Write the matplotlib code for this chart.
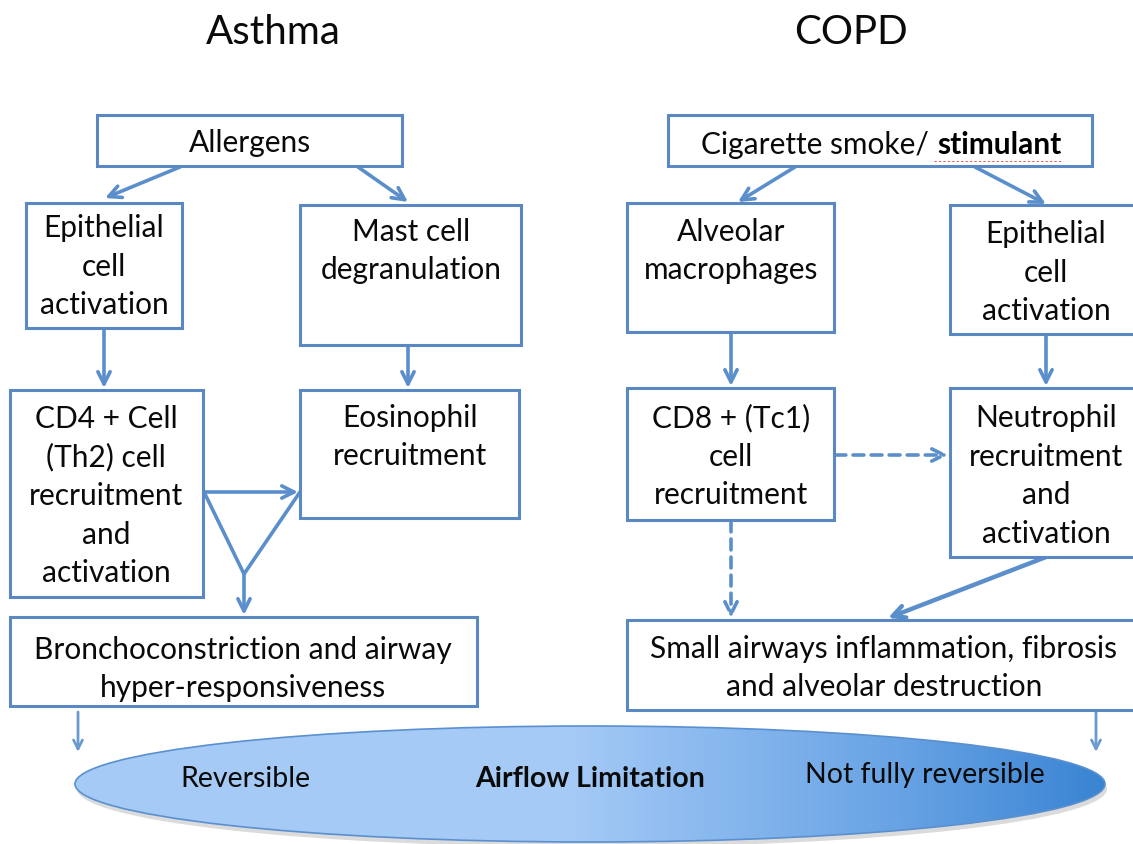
import matplotlib
matplotlib.use("Agg")
import matplotlib.pyplot as plt
import numpy as np
from matplotlib.patches import Rectangle, Ellipse
from matplotlib.colors import LinearSegmentedColormap

# ---------------- data (text content) ----------------
titles = ["Asthma", "COPD"]
asthma_labels = [
    ["Allergens"],
    ["Epithelial", "cell", "activation"],
    ["Mast cell", "degranulation"],
    ["CD4 + Cell", "(Th2) cell", "recruitment", "and", "activation"],
    ["Eosinophil", "recruitment"],
    ["Bronchoconstriction and airway", "hyper-responsiveness"],
]
copd_top_plain = "Cigarette smoke/ "
copd_top_bold = "stimulant"
copd_labels = [
    None,
    ["Alveolar", "macrophages"],
    ["Epithelial", "cell", "activation"],
    ["CD8 + (Tc1)", "cell", "recruitment"],
    ["Neutrophil", "recruitment", "and", "activation"],
    ["Small airways inflammation, fibrosis", "and alveolar destruction"],
]
ellipse_labels = ["Reversible", "Airflow Limitation", "Not fully reversible"]

# ---------------- layout (pixel coords) ----------------
W, H = 1133, 844
EDGE = "#5a88c2"
ARROW = "#5b8fcb"
FONT = "Lato"
FS = 21.5
LINE_H = 38.5

# box: (x0, y0, x1, y1), text center (cx, cy)
asthma_boxes = [
    ((97, 115, 402, 166), (250, 143)),
    ((26, 203, 182, 328), (104, 267)),
    ((300, 205, 521, 345), (411, 251)),
    ((10, 390, 203, 597), (106, 496)),
    ((300, 390, 519, 518), (410, 437)),
    ((10, 617, 477, 706), (243, 669)),
]
copd_boxes = [
    ((668, 115, 1092, 166), (880, 145)),
    ((627, 203, 834, 332), (731, 251)),
    ((950, 205, 1145, 334), (1046, 273)),
    ((627, 388, 834, 520), (731, 457)),
    ((950, 388, 1145, 557), (1046, 476)),
    ((627, 620, 1145, 710), (884, 668)),
]

fig = plt.figure(figsize=(W / 100, H / 100), dpi=100)
ax = fig.add_axes([0, 0, 1, 1])
ax.set_xlim(0, W)
ax.set_ylim(H, 0)
ax.axis("off")


def draw_box(rect, center, lines):
    x0, y0, x1, y1 = rect
    ax.add_patch(Rectangle((x0, y0), x1 - x0, y1 - y0, fill=True, facecolor="white",
                           edgecolor=EDGE, lw=2.2, zorder=3))
    if lines is None:
        return
    cx, cy = center
    n = len(lines)
    for i, ln in enumerate(lines):
        y = cy + (i - (n - 1) / 2) * LINE_H
        ax.text(cx, y, ln, ha="center", va="center", fontsize=FS, family=FONT,
                color="#0a0a0a", zorder=4)


def arrow(p0, p1, ls="-", lw=2.6, ms=22, color=ARROW):
    ax.annotate("", xy=p1, xytext=p0,
                arrowprops=dict(arrowstyle="->", color=color, lw=lw, linestyle=ls,
                                mutation_scale=ms, shrinkA=0, shrinkB=0),
                zorder=2)


def line(pts, lw=2.6, color=ARROW):
    xs, ys = zip(*pts)
    ax.plot(xs, ys, color=color, lw=lw, solid_capstyle="round", zorder=2)


# titles
ax.text(273, 32, titles[0], ha="center", va="center", fontsize=29, family=FONT, color="#0a0a0a")
ax.text(851, 32, titles[1], ha="center", va="center", fontsize=29, family=FONT, color="#0a0a0a")

for (rect, c), lab in zip(asthma_boxes, asthma_labels):
    draw_box(rect, c, lab)
for (rect, c), lab in zip(copd_boxes, copd_labels):
    draw_box(rect, c, lab)

# COPD top box text with bold part
ax.text(929, 145, copd_top_plain.rstrip(), ha="right", va="center", fontsize=FS,
        family=FONT, color="#0a0a0a", zorder=4)
ax.text(937, 145, copd_top_bold, ha="left", va="center", fontsize=FS, family=FONT,
        fontweight="bold", color="black", zorder=4)
ax.plot([934, 1062], [161, 161], color="#e06060", lw=0.8, ls=(0, (2, 2)), zorder=4)

# ---- Asthma arrows ----
arrow((180, 167), (105, 198))
arrow((358, 167), (408, 202))
arrow((104, 329), (104, 388))
arrow((408, 346), (408, 388))
arrow((204, 492), (298, 492))
line([(204, 492), (244, 574), (300, 492)])
arrow((244, 574), (244, 615))
arrow((78, 712), (78, 752), lw=2.0, ms=16, color="#6b9ad0")

# ---- COPD arrows ----
arrow((795, 167), (738, 202))
arrow((975, 167), (1046, 204))
arrow((731, 333), (731, 386))
arrow((1046, 335), (1046, 386))
arrow((835, 455), (948, 455), ls=(0, (3, 2)))
arrow((731, 521), (731, 618), ls=(0, (3, 2)))
arrow((1046, 557), (888, 618), lw=3.2)
arrow((1096, 712), (1096, 752), lw=2.0, ms=16, color="#6b9ad0")

# ---- gradient ellipse ----
ecx, ecy, ew, eh = 590, 784, 1030, 116
shadow = Ellipse((ecx + 2, ecy + 5), ew, eh, facecolor="#9a9a9a", edgecolor="none",
                 alpha=0.35, zorder=1)
ax.add_patch(shadow)
cmap = LinearSegmentedColormap.from_list(
    "g", [(0.0, "#a6cbf5"), (0.48, "#a5caf6"), (0.6, "#8dbbef"),
          (0.8, "#68a3e4"), (1.0, "#3a84d3")])
grad = np.linspace(0, 1, 512).reshape(1, -1)
ell = Ellipse((ecx, ecy), ew, eh, facecolor="none", edgecolor="#5a90d0", lw=1.2, zorder=3)
ax.add_patch(ell)
im = ax.imshow(grad, cmap=cmap, aspect="auto",
               extent=(ecx - ew / 2, ecx + ew / 2, ecy + eh / 2, ecy - eh / 2), zorder=2)
clip = Ellipse((ecx, ecy), ew, eh, transform=ax.transData, facecolor="none", edgecolor="none")
ax.add_patch(clip)
im.set_clip_path(clip)
ax.set_xlim(0, W)
ax.set_ylim(H, 0)

ax.text(245, 779, ellipse_labels[0], ha="center", va="center", fontsize=20.5, family=FONT,
        color="#0a0a0a", zorder=4)
ax.text(590, 779, ellipse_labels[1], ha="center", va="center", fontsize=20.5, family=FONT,
        fontweight="bold", color="#0a0a0a", zorder=4)
ax.text(925, 775, ellipse_labels[2], ha="center", va="center", fontsize=20.5, family=FONT,
        color="#0a0a0a", zorder=4)

fig.savefig("out.png", dpi=100)
